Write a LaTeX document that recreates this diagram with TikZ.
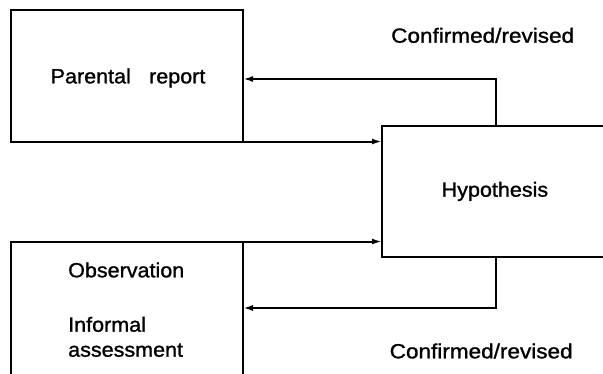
\documentclass[tikz,border=0pt]{standalone}
\usepackage{fontspec}
\setmainfont{Liberation Sans}[FakeStretch=1.05,FakeBold=1.2]
\usetikzlibrary{arrows.meta}
\begin{document}
\begin{tikzpicture}[x=1pt,y=-1pt,
  box/.style={draw, line width=2pt, inner sep=0pt, rectangle},
  lbl/.style={inner sep=0pt, anchor=base west, font=\fontsize{20.5}{24}\selectfont},
  widelbl/.style={lbl, font=\fontsize{20.5}{24}\selectfont\addfontfeature{FakeStretch=1.1}},
  link/.style={line width=2pt, -{Latex[length=10pt,width=6pt]}}]
  \clip (0,0) rectangle (603,373);
  \fill[white] (0,0) rectangle (603,373);

  % boxes
  \draw[box] (11,10) rectangle (243,141.5);
  \coordinate (p-se) at (243,141.5);
  \draw[box] (382,126) rectangle (612,257);
  \coordinate (h-nw) at (382,126);
  \draw[box] (11,241.5) rectangle (243,390);
  \coordinate (o-ne) at (243,241.5);

  % texts
  \node[lbl] (ptext) at (50.5,83.3) {Parental\hspace{0.6em} report};
  \node[lbl] (htext) at (441.5,196.7) {Hypothesis};
  \node[lbl] (otext) at (68,277.3) {Observation};
  \node[lbl] (itext) at (68,331.7) {Informal};
  \node[lbl] (atext) at (68,356.7) {assessment};
  \node[widelbl] (ctop) at (391,42.7) {Confirmed/revised};
  \node[widelbl] (cbot) at (389.5,358.3) {Confirmed/revised};

  % turning points of the feedback loops
  \coordinate (tu) at (496,126);
  \coordinate (tuc) at (496,79);
  \coordinate (pe) at (243,79);
  \coordinate (td) at (496,257);
  \coordinate (tdc) at (496,308);
  \coordinate (oe) at (243,308);

  % connectors
  \draw[link] (p-se) -- (p-se -| h-nw);
  \draw[link] (o-ne) -- (o-ne -| h-nw);
  \draw[link] (tu) -- (tuc) -- (pe);
  \draw[link] (td) -- (tdc) -- (oe);
\end{tikzpicture}
\end{document}
